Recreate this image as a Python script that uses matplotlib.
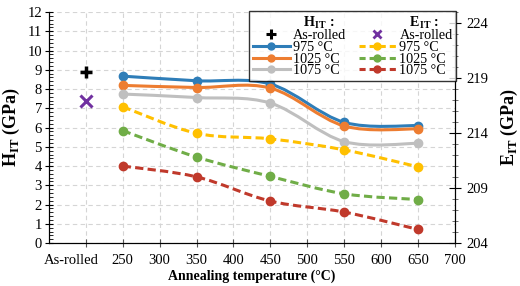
import numpy as np
import matplotlib
matplotlib.use("Agg")
import matplotlib.pyplot as plt
import matplotlib.transforms as mtransforms
from matplotlib.path import Path
from matplotlib.patches import PathPatch
from matplotlib.lines import Line2D
from matplotlib.ticker import MultipleLocator, FixedLocator

plt.rcParams['font.family'] = ['Liberation Serif', 'DejaVu Serif']
plt.rcParams['mathtext.fontset'] = 'custom'
plt.rcParams['mathtext.rm'] = 'Liberation Serif'
plt.rcParams['mathtext.bf'] = 'Liberation Serif:bold'

# datos
temps = [250, 350, 450, 550, 650]
asrolled_x = 200
asrolled_h = 8.86
asrolled_e = 216.93

h_975 = [8.67, 8.43, 8.26, 6.27, 6.10]
h_1025 = [8.19, 8.08, 8.05, 6.08, 5.93]
h_1075 = [7.74, 7.56, 7.27, 5.27, 5.18]

e_975 = [216.39, 213.98, 213.47, 212.47, 210.93]
e_1025 = [214.22, 211.82, 210.06, 208.48, 207.96]
e_1075 = [211.0, 210.02, 207.82, 206.82, 205.24]

labels = ['975 °C', '1025 °C', '1075 °C']
c_h = ['#2E7DB8', '#ED7D31', '#BFBFBF']
c_e = ['#FFC000', '#70AD47', '#C0392B']

DASH = (0, (2.7, 1.4))


def smooth_path(x, y):
    # curva suavizada tipo Excel (Catmull-Rom -> Bezier)
    p = np.column_stack([x, y]).astype(float)
    n = len(p)
    verts = [p[0]]
    codes = [Path.MOVETO]
    for i in range(n - 1):
        p0 = p[i - 1] if i > 0 else p[i]
        p3 = p[i + 2] if i + 2 < n else p[i + 1]
        c1 = p[i] + (p[i + 1] - p0) / 6
        c2 = p[i + 1] - (p3 - p[i]) / 6
        verts += [c1, c2, p[i + 1]]
        codes += [Path.CURVE4] * 3
    return Path(verts, codes)


fig = plt.figure(figsize=(5.2, 2.86), dpi=100)
ax = fig.add_axes([0.094, 0.150, 0.781, 0.808])
ax2 = ax.twinx()

ax.set_xlim(150, 700)
ax.set_ylim(0, 12)
ax2.set_ylim(204, 225)

for ys, col in zip([h_975, h_1025, h_1075], c_h):
    ax.add_patch(PathPatch(smooth_path(temps, ys), facecolor='none', edgecolor=col, lw=2.2, zorder=3))
    ax.plot(temps, ys, 'o', color=col, ms=6, zorder=4)
ax.plot([asrolled_x], [asrolled_h], marker='+', color='black', ms=8, mew=2.5, ls='none', zorder=4)

for ys, col in zip([e_975, e_1025, e_1075], c_e):
    ax2.add_patch(PathPatch(smooth_path(temps, ys), facecolor='none', edgecolor=col, lw=2.2,
                            linestyle=DASH, zorder=3))
    ax2.plot(temps, ys, 'o', color=col, ms=6, zorder=4)
ax2.plot([asrolled_x], [asrolled_e], marker='x', color='#7030A0', ms=8, mew=2.2, ls='none', zorder=4)

# ejes y ticks
xt = list(range(200, 701, 50))
ax.xaxis.set_major_locator(FixedLocator(xt))
ax.set_xticklabels(['As-rolled'] + [str(v) for v in xt[1:]])
ax.yaxis.set_major_locator(MultipleLocator(1))
ax.yaxis.set_minor_locator(MultipleLocator(0.2))
ax2.yaxis.set_major_locator(FixedLocator([204, 209, 214, 219, 224]))
ax2.yaxis.set_minor_locator(MultipleLocator(1))

ax.tick_params(axis='both', which='major', direction='inout', length=6, labelsize=10.5, pad=2)
ax.tick_params(axis='x', which='major', color='#555555', pad=5)
ax.tick_params(axis='y', which='minor', direction='in', length=3)
ax2.tick_params(axis='y', which='major', direction='inout', length=8, labelsize=10.5, pad=4)
ax2.tick_params(axis='y', which='minor', direction='inout', length=5, color='#555555')

# "As-rolled" desplazado a la izquierda como en el original
lbl0 = ax.get_xticklabels()[0]
lbl0.set_transform(lbl0.get_transform() + mtransforms.ScaledTranslation(-0.15, 0, fig.dpi_scale_trans))

ax.grid(True, which='major', color='#D5D5D5', ls=(0, (4, 3)), lw=0.8)
ax.set_axisbelow(True)
for a in (ax, ax2):
    a.spines['top'].set_visible(False)

ax.set_xlabel('Annealing temperature (°C)', fontsize=10, fontweight='bold', labelpad=2)
ax.set_ylabel('H$_{\\mathbf{IT}}$ (GPa)', fontsize=13, fontweight='bold', labelpad=4)
ax2.set_ylabel('E$_{\\mathbf{IT}}$ (GPa)', fontsize=13, fontweight='bold', labelpad=8)

# leyenda
blank = Line2D([], [], ls='none')
hh = [blank, Line2D([], [], marker='+', color='black', ms=7, mew=2.2, ls='none')]
hh += [Line2D([], [], color=c, lw=2.2, marker='o', ms=5) for c in c_h]
he = [blank, Line2D([], [], marker='x', color='#7030A0', ms=6, mew=2, ls='none')]
he += [Line2D([], [], color=c, lw=2.2, ls=(0, (2, 1.3)), marker='o', ms=5) for c in c_e]
lh = ['   H$_{\\mathbf{IT}}$ :', 'As-rolled'] + labels
le = ['   E$_{\\mathbf{IT}}$ :', 'As-rolled'] + labels
leg = ax2.legend(hh + he, lh + le, ncol=2, loc='upper right', bbox_to_anchor=(1.003, 1.005),
                 fontsize=10.2, frameon=True, fancybox=False, edgecolor='black',
                 handlelength=2.6, handletextpad=0.25, columnspacing=0.9, labelspacing=-0.1,
                 borderpad=0.25, borderaxespad=0.0)
leg.get_frame().set_linewidth(1.0)
leg.set_zorder(10)
for t in leg.get_texts():
    if 'IT' in t.get_text():
        t.set_fontweight('bold')

plt.savefig('out.png', dpi=100)
